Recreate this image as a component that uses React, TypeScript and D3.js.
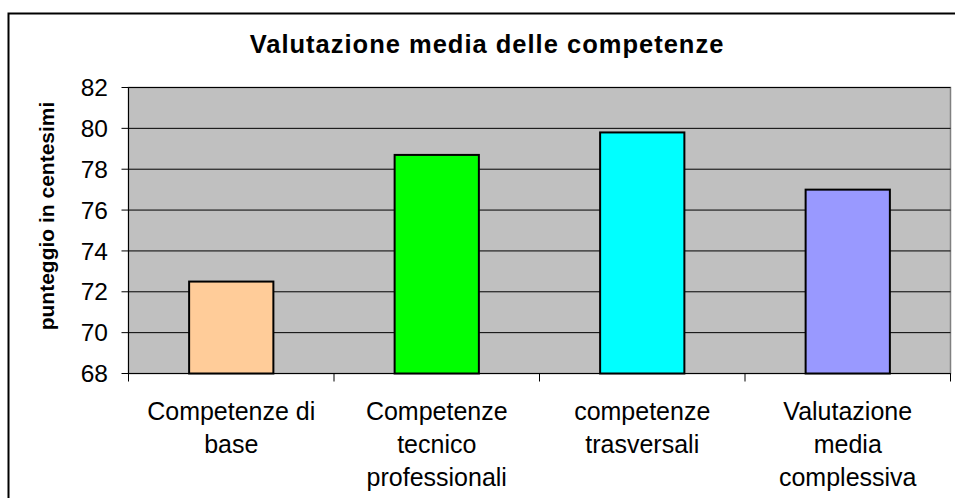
import React from "react";
import * as d3 from "d3";

const categories: string[][] = [
  ["Competenze di", "base"],
  ["Competenze", "tecnico", "professionali"],
  ["competenze", "trasversali"],
  ["Valutazione", "media", "complessiva"],
];
const values: number[] = [72.5, 78.7, 79.8, 77.0];
const barColors: string[] = ["#FFCC99", "#00FF00", "#00FFFF", "#9999FF"];
const yTicks: number[] = [68, 70, 72, 74, 76, 78, 80, 82];
const title = "Valutazione media delle competenze";
const yLabel = "punteggio in centesimi";

const W = 955;
const H = 498;
const plot = { left: 128.5, right: 950.5, top: 87.5, bottom: 373.5 };
const FONT = "'Liberation Sans', Arial, Helvetica, sans-serif";

export default function App() {
  const x = d3
    .scaleBand<number>()
    .domain(d3.range(categories.length))
    .range([plot.left, plot.right])
    .padding(0);
  const y = d3.scaleLinear().domain([68, 82]).range([plot.bottom, plot.top]);
  const barW = x.bandwidth() * 0.41;
  const boundaries = d3.range(categories.length + 1).map((i) => plot.left + i * x.step());

  return (
    <svg
      width={W}
      height={H}
      style={{ position: "absolute", left: 0, top: 0, background: "#fff" }}
      fontFamily={FONT}
    >
      {/* chart outer border */}
      <rect x={8.5} y={13.5} width={980} height={520} fill="#fff" stroke="#000" strokeWidth={2} />

      {/* title */}
      <text
        x={487}
        y={53}
        textAnchor="middle"
        fontSize={25.5}
        fontWeight="bold"
        letterSpacing={1}
        fill="#000"
      >
        {title}
      </text>

      {/* plot area */}
      <rect
        x={plot.left}
        y={plot.top}
        width={plot.right - plot.left}
        height={plot.bottom - plot.top}
        fill="#C0C0C0"
        stroke="#808080"
        strokeWidth={1.5}
      />

      {/* gridlines */}
      {yTicks.map((t) => (
        <line key={"g" + t} x1={plot.left} x2={plot.right} y1={y(t)} y2={y(t)} stroke="#000" strokeWidth={1} />
      ))}

      {/* bars */}
      {values.map((v, i) => {
        const cx = (x(i) as number) + x.bandwidth() / 2;
        return (
          <rect
            key={"b" + i}
            x={cx - barW / 2}
            y={y(v)}
            width={barW}
            height={y(68) - y(v)}
            fill={barColors[i]}
            stroke="#000"
            strokeWidth={2}
          />
        );
      })}

      {/* y axis */}
      <line x1={plot.left} x2={plot.left} y1={plot.top} y2={plot.bottom} stroke="#000" strokeWidth={1} />
      {yTicks.map((t) => (
        <g key={"t" + t}>
          <line x1={plot.left - 7} x2={plot.left} y1={y(t)} y2={y(t)} stroke="#000" strokeWidth={1} />
          <text x={108} y={y(t)} dy="0.35em" textAnchor="end" fontSize={24.5} fill="#000">
            {t}
          </text>
        </g>
      ))}

      {/* x axis */}
      <line x1={plot.left} x2={plot.right} y1={plot.bottom} y2={plot.bottom} stroke="#000" strokeWidth={1} />
      {boundaries.map((bx, i) => (
        <line key={"xt" + i} x1={bx} x2={bx} y1={plot.bottom} y2={plot.bottom + 8} stroke="#000" strokeWidth={1} />
      ))}
      {categories.map((lines, i) => {
        const cx = (x(i) as number) + x.bandwidth() / 2;
        return (
          <text key={"c" + i} x={cx} y={419.5} textAnchor="middle" fontSize={25} fill="#000">
            {lines.map((ln, j) => (
              <tspan key={j} x={cx} y={419.5 + j * 33}>
                {ln}
              </tspan>
            ))}
          </text>
        );
      })}

      {/* y axis label */}
      <text
        transform={`translate(54, 216) rotate(-90)`}
        textAnchor="middle"
        fontSize={21}
        fontWeight="bold"
        fill="#000"
      >
        {yLabel}
      </text>
    </svg>
  );
}
